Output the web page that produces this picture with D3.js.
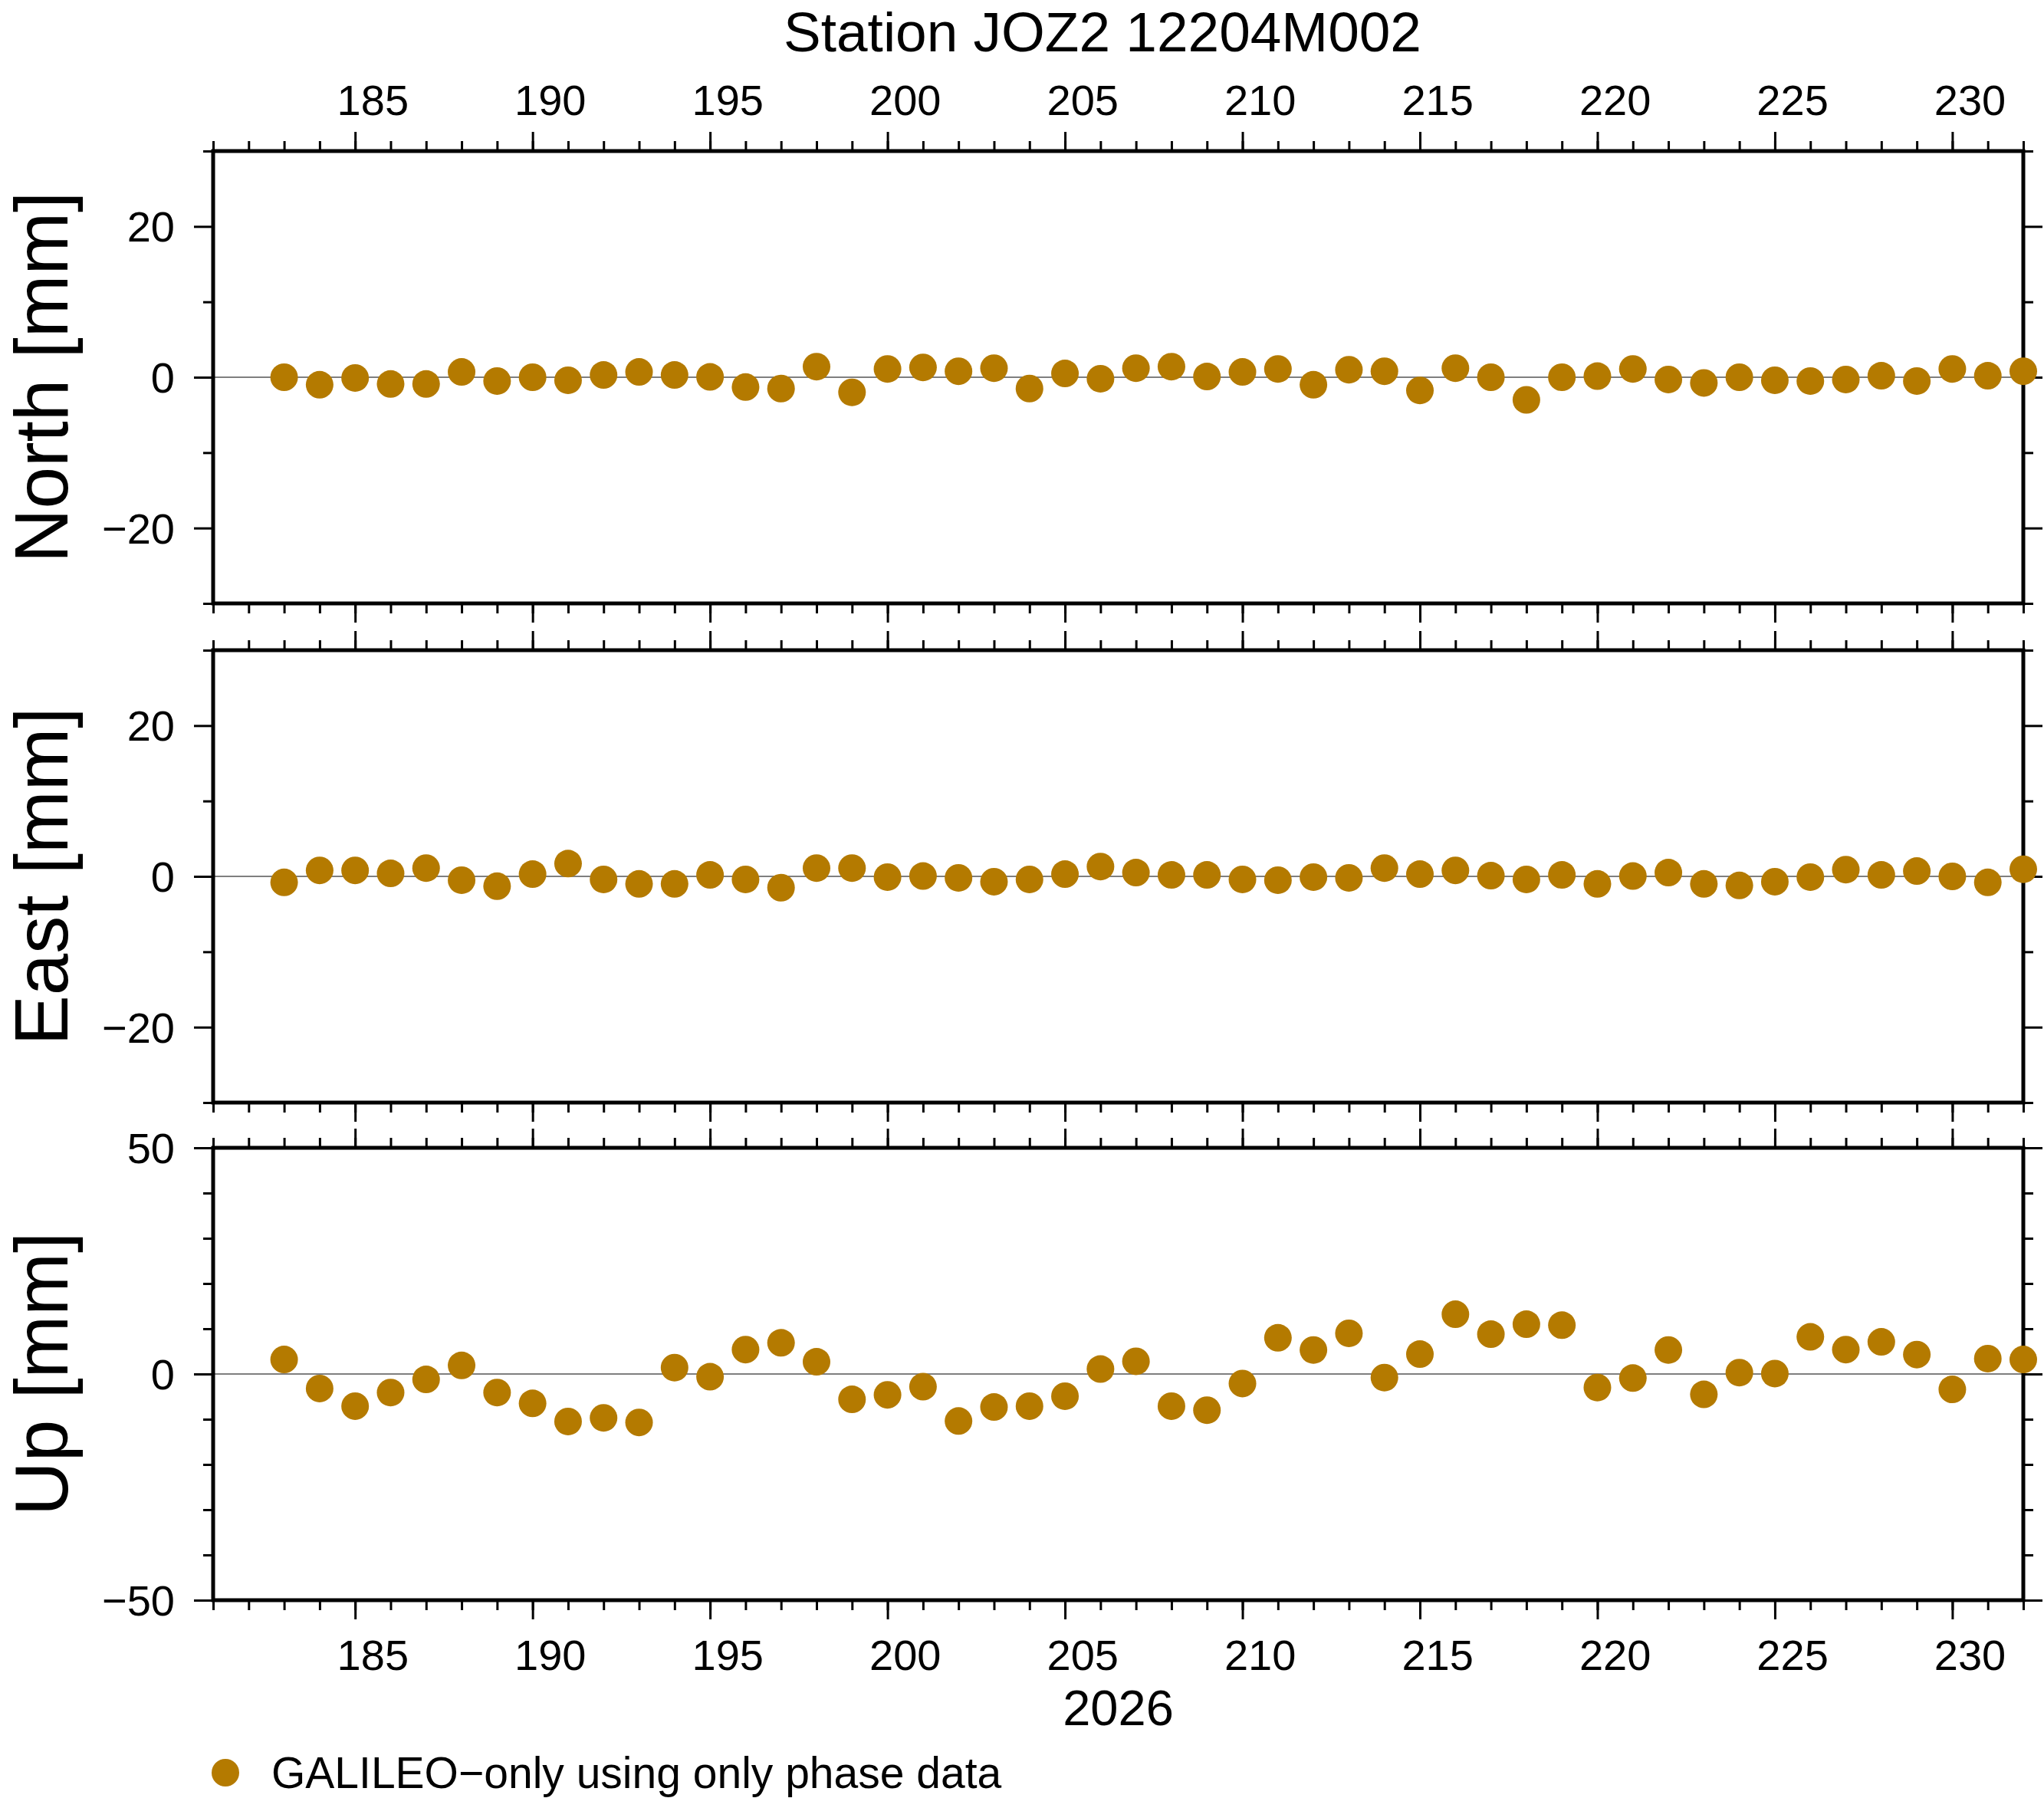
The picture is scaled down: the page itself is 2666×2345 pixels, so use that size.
<!DOCTYPE html>
<html>
<head>
<meta charset="utf-8">
<script src="https://cdn.jsdelivr.net/npm/d3@7"></script>
<style>
  html, body { margin: 0; padding: 0; background: #fff; }
  text { font-family: "Liberation Sans", Arial, Helvetica, sans-serif; fill: #000; }
</style>
</head>
<body>
<svg id="chart"></svg>
<script>
// day of year 2026
var days = [183,184,185,186,187,188,189,190,191,192,
            193,194,195,196,197,198,199,200,201,202,
            203,204,205,206,207,208,209,210,211,212,
            213,214,215,216,217,218,219,220,221,222,
            223,224,225,226,227,228,229,230,231,232];

// residuals in mm
var north = [0.0,-1.0,-0.1,-0.9,-0.9,0.7,-0.5,0.0,-0.4,0.3,
             0.7,0.3,0.05,-1.3,-1.5,1.4,-2.0,1.1,1.3,0.8,
             1.2,-1.5,0.5,-0.2,1.2,1.4,0.1,0.7,1.1,-1.0,
             1.0,0.8,-1.75,1.2,0.0,-3.0,0.0,0.15,1.1,-0.3,
             -0.75,0.0,-0.4,-0.5,-0.3,0.2,-0.5,1.1,0.2,0.8];

var east = [-0.8,0.8,0.8,0.4,1.1,-0.5,-1.3,0.3,1.7,-0.4,
            -1.0,-1.0,0.2,-0.4,-1.5,1.1,1.1,-0.1,0.05,-0.2,
            -0.7,-0.4,0.3,1.3,0.5,0.2,0.2,-0.4,-0.5,-0.1,
            -0.2,1.1,0.3,0.8,0.1,-0.4,0.2,-1.0,0.05,0.5,
            -1.0,-1.2,-0.7,-0.1,0.9,0.2,0.7,0.0,-0.8,0.95];

var up = [3.2,-3.2,-7.1,-4.1,-1.2,1.9,-4.1,-6.5,-10.5,-9.7,
          -10.7,1.4,-0.6,5.4,6.9,2.7,-5.6,-4.6,-2.8,-10.4,
          -7.3,-7.1,-4.9,1.1,2.8,-7.1,-8.0,-2.1,8.0,5.3,
          9.0,-0.8,4.4,13.2,8.8,11.0,10.8,-3.0,-0.9,5.3,
          -4.5,0.3,0.1,8.2,5.4,7.1,4.3,-3.4,3.4,3.2];

var xDomain = [181, 232];
var xMajor = [185,190,195,200,205,210,215,220,225,230];

var panelNames = ['North [mm]', 'East [mm]', 'Up [mm]'];
var panelValues = [north, east, up];
var panelDomains = [[-30, 30], [-30, 30], [-50, 50]];
var panelMajor = [[-20, 0, 20], [-20, 0, 20], [-50, 0, 50]];
var panelMinor = [[-30,-10,10,30], [-30,-10,10,30], [-40,-30,-20,-10,10,20,30,40]];

var title = 'Station JOZ2 12204M002';
var yearLabel = '2026';
var legendLabel = 'GALILEO\u2212only using only phase data';

var width = 2666, height = 2345;
var left = 278, right = 2639;
var panelTops = [197, 848, 1497];
var panelH = 590;
var dotColor = '#b47a00';
var dotR = 18;
var majorLen = 25, minorLen = 13;

var svg = d3.select('#chart')
  .attr('width', width)
  .attr('height', height);

svg.append('rect')
  .attr('width', width)
  .attr('height', height)
  .attr('fill', '#fff');

var x = d3.scaleLinear().domain(xDomain).range([left, right]);
var xMinor = d3.range(xDomain[0], xDomain[1] + 1);

function minus(v){
  return v < 0 ? '\u2212' + Math.abs(v) : String(v);
}

function styleTicks(g){
  g.select('.domain').remove();
  g.selectAll('.tick line').attr('stroke', '#000').attr('stroke-width', 3);
  g.selectAll('.tick text').remove();
}

panelValues.forEach(function(vals, i){
  var top = panelTops[i];
  var y = d3.scaleLinear().domain(panelDomains[i]).range([top + panelH, top]);
  var g = svg.append('g');

  // x ticks on top and bottom of every panel, pointing outward
  g.append('g').attr('transform', 'translate(0,' + top + ')')
    .call(d3.axisTop(x).tickValues(xMinor).tickSize(minorLen)).call(styleTicks);
  g.append('g').attr('transform', 'translate(0,' + top + ')')
    .call(d3.axisTop(x).tickValues(xMajor).tickSize(majorLen)).call(styleTicks);
  g.append('g').attr('transform', 'translate(0,' + (top + panelH) + ')')
    .call(d3.axisBottom(x).tickValues(xMinor).tickSize(minorLen)).call(styleTicks);
  g.append('g').attr('transform', 'translate(0,' + (top + panelH) + ')')
    .call(d3.axisBottom(x).tickValues(xMajor).tickSize(majorLen)).call(styleTicks);

  // y ticks left and right
  g.append('g').attr('transform', 'translate(' + left + ',0)')
    .call(d3.axisLeft(y).tickValues(panelMinor[i]).tickSize(minorLen)).call(styleTicks);
  g.append('g').attr('transform', 'translate(' + left + ',0)')
    .call(d3.axisLeft(y).tickValues(panelMajor[i]).tickSize(majorLen)).call(styleTicks);
  g.append('g').attr('transform', 'translate(' + right + ',0)')
    .call(d3.axisRight(y).tickValues(panelMinor[i]).tickSize(minorLen)).call(styleTicks);
  g.append('g').attr('transform', 'translate(' + right + ',0)')
    .call(d3.axisRight(y).tickValues(panelMajor[i]).tickSize(majorLen)).call(styleTicks);

  // y tick labels
  g.selectAll('.ylab')
    .data(panelMajor[i])
    .enter().append('text')
    .attr('x', 228)
    .attr('y', function(d){ return y(d) + 20; })
    .attr('text-anchor', 'end')
    .attr('font-size', 56)
    .text(minus);

  // zero line
  g.append('line')
    .attr('x1', left).attr('x2', right)
    .attr('y1', y(0)).attr('y2', y(0))
    .attr('stroke', '#000')
    .attr('stroke-width', 1.2);

  // frame
  g.append('rect')
    .attr('x', left).attr('y', top)
    .attr('width', right - left).attr('height', panelH)
    .attr('fill', 'none')
    .attr('stroke', '#000')
    .attr('stroke-width', 5);

  // axis title
  g.append('text')
    .attr('transform', 'translate(88,' + (top + panelH / 2) + ') rotate(-90)')
    .attr('text-anchor', 'middle')
    .attr('font-size', 98)
    .text(panelNames[i]);

  // points
  g.selectAll('.dot')
    .data(days)
    .enter().append('circle')
    .attr('cx', function(d){ return x(d); })
    .attr('cy', function(d, j){ return y(vals[j]); })
    .attr('r', dotR)
    .attr('fill', dotColor);
});

// day labels, centred in the day interval
svg.selectAll('.xtop')
  .data(xMajor)
  .enter().append('text')
  .attr('x', function(d){ return x(d + 0.5); })
  .attr('y', 150)
  .attr('text-anchor', 'middle')
  .attr('font-size', 56)
  .text(function(d){ return d; });

svg.selectAll('.xbot')
  .data(xMajor)
  .enter().append('text')
  .attr('x', function(d){ return x(d + 0.5); })
  .attr('y', 2178)
  .attr('text-anchor', 'middle')
  .attr('font-size', 56)
  .text(function(d){ return d; });

svg.append('text')
  .attr('x', (left + right) / 2)
  .attr('y', 2250)
  .attr('text-anchor', 'middle')
  .attr('font-size', 65)
  .text(yearLabel);

svg.append('text')
  .attr('x', 1438)
  .attr('y', 67)
  .attr('text-anchor', 'middle')
  .attr('font-size', 73)
  .text(title);

// legend
svg.append('circle')
  .attr('cx', 294)
  .attr('cy', 2312)
  .attr('r', dotR)
  .attr('fill', dotColor);

svg.append('text')
  .attr('x', 354)
  .attr('y', 2332)
  .attr('font-size', 57)
  .text(legendLabel);
</script>
</body>
</html>
